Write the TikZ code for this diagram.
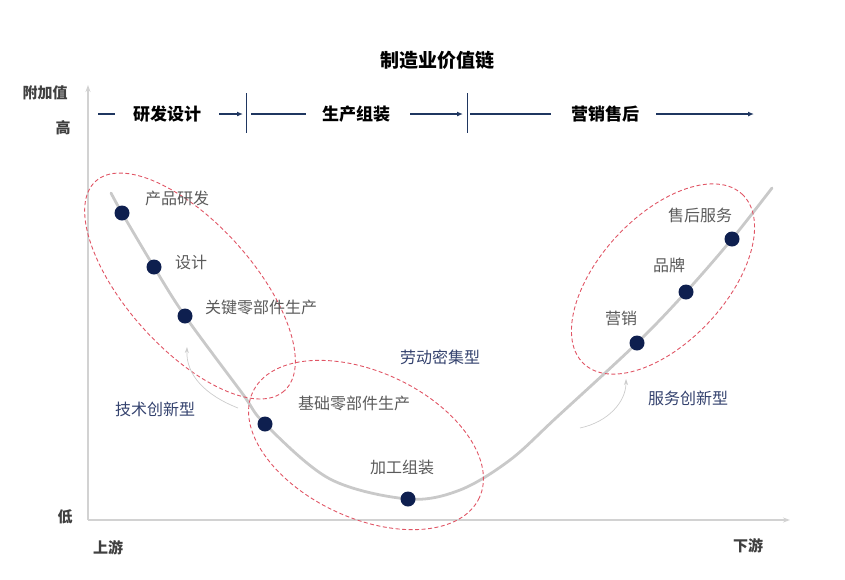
\documentclass[tikz,border=0pt]{standalone}
\usepackage{fontspec}
\setmainfont{Noto Sans CJK SC}
\usetikzlibrary{arrows.meta}
\definecolor{navy}{HTML}{0E1F4F}
\definecolor{rowblue}{HTML}{1F3660}
\definecolor{catblue}{HTML}{34426E}
\definecolor{lblgray}{HTML}{5A5A5A}
\definecolor{dashred}{HTML}{E05565}
\definecolor{curvegray}{HTML}{C9C9C9}
\definecolor{axisgray}{HTML}{D2D2D2}
\tikzset{
  dot/.style={circle,fill=navy,inner sep=0pt,minimum size=15pt},
  lbl/.style={text=lblgray,font=\fontsize{16}{18}\selectfont,inner sep=0pt},
  cat/.style={text=catblue,font=\fontsize{16}{18}\selectfont,inner sep=0pt},
  axlbl/.style={text=black!75,font=\fontsize{15}{17}\selectfont\bfseries,inner sep=0pt},
  stage/.style={text=black,font=\fontsize{17}{19}\selectfont\bfseries,inner sep=0pt},
  rowline/.style={draw=rowblue,line width=1.3pt},
  rowarrow/.style={rowline,-{Latex[length=6pt,width=5pt]}},
  divider/.style={draw=rowblue,line width=0.9pt},
  axisline/.style={draw=axisgray,line width=1.2pt,-{Stealth[length=7pt,width=5pt]}},
  group/.style={draw=dashred,line width=0.9pt,dash pattern=on 4pt off 2.5pt},
  hint/.style={draw=black!20,line width=0.7pt,-{Stealth[length=6pt,width=4pt]}}
}
\begin{document}
\begin{tikzpicture}[x=1pt,y=-1pt]
\useasboundingbox (0,0) rectangle (845,579);
% title
\node[font=\fontsize{19}{21}\selectfont\bfseries] (title) at (437,60) {制造业价值链};
% axes
\coordinate (origin) at (88,520);
\coordinate (ytop) at (88,85);
\coordinate (xend) at (790,520);
\draw[axisline] (origin) -- (ytop);
\draw[axisline] (origin) -- (xend);
\node[axlbl] (yl) at (45,93) {附加值};
\node[axlbl] (hi) at (63,128) {高};
\node[axlbl] (lo) at (65,517) {低};
\node[axlbl] (up) at (108,548) {上游};
\node[axlbl] (down) at (748,546) {下游};
% stage row
\node[stage] (s1) at (167,114) {研发设计};
\node[stage] (s2) at (356,114) {生产组装};
\node[stage] (s3) at (605,114) {营销售后};
\coordinate (d1a) at (98,114); \coordinate (d1b) at (115,114);
\coordinate (a1a) at (219,114); \coordinate (a1b) at (243,114);
\coordinate (l2a) at (251,114); \coordinate (l2b) at (306,114);
\coordinate (a2a) at (410,114); \coordinate (a2b) at (463,114);
\coordinate (l3a) at (470,114); \coordinate (l3b) at (551,114);
\coordinate (a3a) at (656,114); \coordinate (a3b) at (754,114);
\coordinate (v1t) at (246,93); \coordinate (v1b) at (246,133);
\coordinate (v2t) at (467,93); \coordinate (v2b) at (467,133);
\draw[rowline] (d1a) -- (d1b);
\draw[rowarrow] (a1a) -- (a1b);
\draw[rowline] (l2a) -- (l2b);
\draw[rowarrow] (a2a) -- (a2b);
\draw[rowline] (l3a) -- (l3b);
\draw[rowarrow] (a3a) -- (a3b);
\draw[divider] (v1t) -- (v1b);
\draw[divider] (v2t) -- (v2b);
% smile curve
\draw[curvegray,line width=2.8pt,line cap=round] plot[smooth,tension=0.55] coordinates
 {(111,193) (122,213) (154,267) (185,316) (242,393) (265,424) (330,479) (408,499) (460,490) (510,460) (557,417) (637,343) (686,292) (732,239) (772,188)};
% groups
\draw[group,rotate around={-48:(190,286)}] (190,286) ellipse [x radius=141, y radius=63];
\draw[group,rotate around={-25:(366,445)}] (366,445) ellipse [x radius=125, y radius=73];
\draw[group,rotate around={47:(663,279)}] (663,279) ellipse [x radius=116, y radius=63];
% hint arrows
\coordinate (h1s) at (238,408); \coordinate (h1e) at (187,347);
\coordinate (h2s) at (580,428); \coordinate (h2e) at (626,379);
\draw[hint] (h1s) .. controls (205,395) and (186,375) .. (h1e);
\draw[hint] (h2s) .. controls (608,422) and (626,402) .. (h2e);
% dots
\node[dot] (p1) at (122,213) {};
\node[dot] (p2) at (154,267) {};
\node[dot] (p3) at (185,316) {};
\node[dot] (p4) at (265,424) {};
\node[dot] (p5) at (408,499) {};
\node[dot] (p6) at (637,343) {};
\node[dot] (p7) at (686,292) {};
\node[dot] (p8) at (732,239) {};
% labels
\node[lbl] (t1) at (177,198) {产品研发};
\node[lbl] (t2) at (191,262) {设计};
\node[lbl] (t3) at (261,307) {关键零部件生产};
\node[lbl] (t4) at (354,403) {基础零部件生产};
\node[lbl] (t5) at (402,467) {加工组装};
\node[lbl] (t6) at (621,318) {营销};
\node[lbl] (t7) at (669,265) {品牌};
\node[lbl] (t8) at (700,215) {售后服务};
\node[cat] (c1) at (155,409) {技术创新型};
\node[cat] (c2) at (440,357) {劳动密集型};
\node[cat] (c3) at (688,398) {服务创新型};
\end{tikzpicture}
\end{document}
